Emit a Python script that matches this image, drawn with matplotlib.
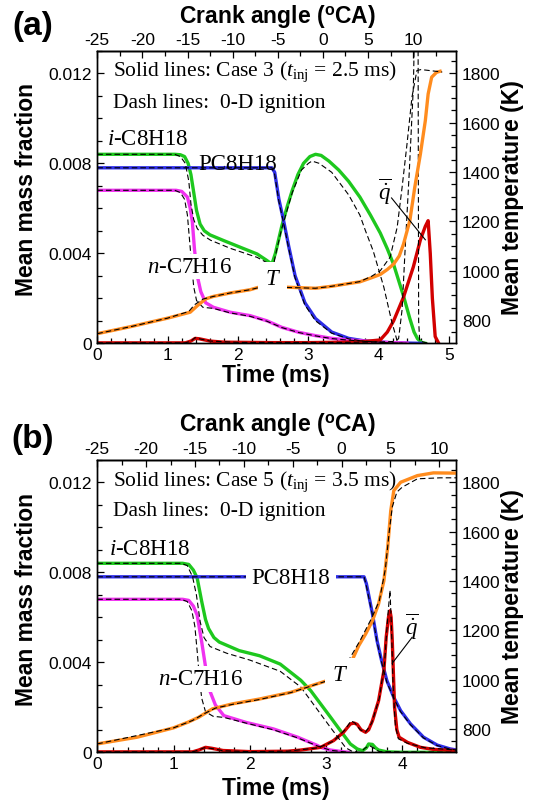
import numpy as np
import matplotlib
matplotlib.use('Agg')
import matplotlib.pyplot as plt
from matplotlib.ticker import MultipleLocator, FuncFormatter

plt.rcParams['font.family'] = 'Liberation Sans'
plt.rcParams['axes.unicode_minus'] = False
plt.rcParams['mathtext.fontset'] = 'custom'
plt.rcParams['mathtext.rm'] = 'Liberation Serif'
plt.rcParams['mathtext.it'] = 'Liberation Serif:italic'
plt.rcParams['mathtext.bf'] = 'Liberation Sans:bold'
plt.rcParams['lines.scale_dashes'] = False

CA_START = -25
CA_PER_MS = 7.8

# ---------------- panel (a): Case 3, t_inj = 2.5 ms ----------------
# i-C8H18
a_ic8_t = [0, 1.10, 1.18, 1.24, 1.29, 1.33, 1.37, 1.41, 1.46, 1.52, 1.60, 1.80, 2.03, 2.27, 2.40, 2.48,
           2.53, 2.62, 2.70, 2.77, 2.85, 2.93, 3.02, 3.10, 3.18, 3.29, 3.43, 3.57, 3.73, 3.88, 4.02,
           4.12, 4.21, 4.35, 4.44, 4.50, 4.55, 4.61, 4.66]
a_ic8_y = [0.0084, 0.0084, 0.00838, 0.0083, 0.0080, 0.0075, 0.0067, 0.0059, 0.0053, 0.0050, 0.00482,
           0.00456, 0.00427, 0.00397, 0.0037, 0.00352, 0.0040, 0.0052, 0.0061, 0.0068, 0.0075, 0.0080,
           0.0083, 0.0084, 0.00835, 0.0081, 0.0077, 0.0072, 0.0065, 0.0057, 0.0049, 0.0042, 0.0035,
           0.0021, 0.0011, 0.0005, 0.0002, 0.00003, 0.0]
a_ic8_0d_t = [0, 1.10, 1.18, 1.25, 1.30, 1.33, 1.37, 1.42, 1.50, 1.61, 1.89, 2.27, 2.46, 2.50, 2.53,
              2.62, 2.77, 2.90, 3.00, 3.05, 3.15, 3.33, 3.57, 3.73, 3.81, 3.92, 4.07, 4.18, 4.26, 4.30]
a_ic8_0d_y = [0.0084, 0.0084, 0.0083, 0.0080, 0.0072, 0.0062, 0.0055, 0.0051, 0.0048, 0.00458,
              0.00422, 0.00382, 0.0035, 0.0034, 0.0039, 0.0051, 0.0067, 0.0077, 0.0080, 0.0081,
              0.0080, 0.0076, 0.0066, 0.0057, 0.0050, 0.0041, 0.0025, 0.0010, 0.0001, 0.0]
# PC8H18
a_pc8_t = [0, 2.48, 2.52, 2.58, 2.65, 2.72, 2.81, 2.95, 3.10, 3.33, 3.57, 3.81, 4.20, 4.60]
a_pc8_y = [0.0078, 0.0078, 0.0076, 0.0064, 0.0054, 0.0043, 0.0030, 0.0018, 0.0011, 0.0005,
           0.00022, 0.0001, 0.00002, 0.0]
a_pc8_0d_t = [0, 2.48, 2.52, 2.58, 2.65, 2.72, 2.81, 2.95, 3.10, 3.33, 3.57, 3.81, 4.20, 4.40]
a_pc8_0d_y = [0.0078, 0.0078, 0.0075, 0.0063, 0.0053, 0.0042, 0.0029, 0.0017, 0.0010, 0.00045,
              0.0002, 0.00008, 0.00001, 0.0]
# n-C7H16
a_nc7_t = [0, 1.12, 1.20, 1.28, 1.32, 1.35, 1.38, 1.42, 1.47, 1.54, 1.65, 1.89, 2.17, 2.41, 2.62,
           2.86, 3.10, 3.33, 3.57, 3.81, 4.10, 4.40]
a_nc7_y = [0.0068, 0.0068, 0.00675, 0.0065, 0.0060, 0.0054, 0.0042, 0.0030, 0.0023, 0.0018, 0.0016,
           0.00138, 0.00123, 0.0010, 0.00071, 0.00049, 0.00034, 0.00022, 0.00015, 0.0001, 0.00004,
           0.00001]
a_nc7_0d_t = [0, 1.10, 1.18, 1.24, 1.28, 1.31, 1.34, 1.37, 1.41, 1.50, 1.65, 1.89, 2.17, 2.41,
              2.62, 2.86, 3.10, 3.33, 3.57, 3.81, 4.10, 4.40]
a_nc7_0d_y = [0.0068, 0.0068, 0.0067, 0.0064, 0.0057, 0.0046, 0.0035, 0.0025, 0.0019, 0.0016,
              0.00155, 0.00135, 0.0012, 0.00098, 0.0007, 0.00048, 0.00033, 0.00021, 0.00014,
              0.00009, 0.00003, 0.0]
# heat release rate (arbitrary units, left axis)
a_q_t = [0, 1.25, 1.33, 1.39, 1.45, 1.60, 1.80, 2.50, 3.00, 3.50, 3.80, 4.02, 4.12, 4.21, 4.35,
         4.49, 4.59, 4.66, 4.70, 4.73, 4.76, 4.80, 4.85]
a_q_y = [0.00002, 0.00002, 0.0001, 0.00022, 0.0002, 0.0001, 0.00005, 0.00003, 0.00003, 0.00005,
         0.00008, 0.00015, 0.0005, 0.0010, 0.00205, 0.0034, 0.0046, 0.0052, 0.00545, 0.0040,
         0.0020, 0.0003, 0.0]
a_q_0d_t = [0, 1.25, 1.33, 1.39, 1.45, 1.60, 2.00, 3.50, 4.00, 4.20, 4.28, 4.33, 4.37, 4.43, 4.49,
            4.52, 4.55, 4.565, 4.58, 4.70]
a_q_0d_y = [0.00002, 0.00002, 0.0001, 0.00025, 0.0002, 0.0001, 0.00004, 0.00004, 0.00006,
            0.00008, 0.0002, 0.0015, 0.004, 0.0075, 0.0114, 0.016, 0.025, 0.001, 0.0001, 0.0]
# mean temperature (K, right axis)
a_T_t = [0, 0.5, 1.0, 1.32, 1.42, 1.54, 1.65, 1.89, 2.17, 2.34, 2.50, 2.72, 3.10, 3.33, 3.57, 3.73,
         3.90, 4.02, 4.12, 4.21, 4.29, 4.35, 4.44, 4.51, 4.59, 4.66, 4.70, 4.75, 4.82, 4.87]
a_T = [745, 775, 808, 832, 858, 886, 896, 910, 923, 937, 936, 933, 929, 937, 948, 955, 972, 985,
       1005, 1027, 1060, 1108, 1203, 1338, 1473, 1608, 1716, 1784, 1804, 1808]
a_T_0d_t = [0, 0.5, 1.0, 1.30, 1.38, 1.50, 1.65, 1.89, 2.17, 2.34, 2.72, 3.10, 3.33, 3.57, 3.73,
            3.90, 4.02, 4.16, 4.26, 4.33, 4.40, 4.47, 4.54, 4.60, 4.90]
a_T_0d = [745, 775, 808, 835, 862, 885, 896, 910, 923, 935, 932, 929, 937, 948, 956, 978, 1000,
          1055, 1176, 1338, 1514, 1703, 1811, 1815, 1805]

# ---------------- panel (b): Case 5, t_inj = 3.5 ms ----------------
b_ic8_t = [0, 1.12, 1.20, 1.26, 1.31, 1.37, 1.42, 1.46, 1.53, 1.60, 1.86, 2.13, 2.40, 2.67, 2.80,
           2.93, 3.06, 3.19, 3.32, 3.41, 3.48, 3.53, 3.56, 3.61, 3.65, 3.69, 3.80, 4.00, 4.71]
b_ic8_y = [0.0084, 0.0084, 0.00835, 0.0081, 0.00775, 0.0067, 0.0059, 0.0055, 0.0051, 0.0049,
           0.00452, 0.00429, 0.00392, 0.0032, 0.00274, 0.00215, 0.00156, 0.00096, 0.00037,
           0.00015, 0.00007, 0.0002, 0.00037, 0.00035, 0.0002, 0.0001, 0.00002, 0.0, 0.0]
b_ic8_0d_t = [0, 1.10, 1.18, 1.25, 1.30, 1.35, 1.40, 1.48, 1.70, 2.00, 2.40, 2.67, 2.80, 3.06,
              3.26, 3.35, 3.45, 3.52, 3.57, 3.62, 3.70, 4.71]
b_ic8_0d_y = [0.0084, 0.0084, 0.0083, 0.0078, 0.0070, 0.0058, 0.0051, 0.0047, 0.0044, 0.0041,
              0.0036, 0.0029, 0.0023, 0.0011, 0.0002, 0.00003, 0.0, 0.0002, 0.0003, 0.0002,
              0.00003, 0.0]
b_pc8_t = [0, 3.50, 3.53, 3.56, 3.61, 3.67, 3.73, 3.80, 3.89, 3.98, 4.11, 4.28, 4.46, 4.63, 4.72]
b_pc8_y = [0.0078, 0.0078, 0.0075, 0.0070, 0.00615, 0.00496, 0.00407, 0.00318, 0.00244, 0.00185,
           0.00126, 0.00067, 0.00032, 0.00015, 0.0001]
b_pc8_0d_t = [0, 3.50, 3.53, 3.56, 3.61, 3.67, 3.73, 3.80, 3.89, 3.98, 4.11, 4.28, 4.46, 4.63, 4.72]
b_pc8_0d_y = [0.0078, 0.0078, 0.0074, 0.0069, 0.0061, 0.0049, 0.0040, 0.0031, 0.0024, 0.0018,
              0.00122, 0.00064, 0.0003, 0.00014, 0.0001]
b_nc7_t = [0, 1.12, 1.20, 1.26, 1.31, 1.34, 1.37, 1.42, 1.48, 1.55, 1.66, 1.95, 2.31, 2.63, 2.89,
           2.93, 3.06, 3.19, 3.30]
b_nc7_y = [0.0068, 0.0068, 0.00675, 0.0065, 0.0061, 0.0055, 0.0049, 0.0038, 0.0027, 0.0021,
           0.00163, 0.00133, 0.00104, 0.00067, 0.0003, 0.00022, 0.0001, 0.00004, 0.0]
b_nc7_0d_t = [0, 1.10, 1.18, 1.24, 1.28, 1.31, 1.34, 1.37, 1.42, 1.52, 1.66, 1.95, 2.31, 2.63,
              2.89, 3.06, 3.30]
b_nc7_0d_y = [0.0068, 0.0068, 0.0067, 0.0063, 0.0056, 0.0045, 0.0033, 0.0024, 0.0018, 0.0016,
              0.00155, 0.0013, 0.0010, 0.00064, 0.00028, 0.00009, 0.0]
b_q_t = [0, 1.25, 1.33, 1.42, 1.50, 1.65, 2.00, 2.50, 2.67, 2.93, 3.10, 3.23, 3.32, 3.37, 3.41,
         3.46, 3.52, 3.56, 3.61, 3.69, 3.76, 3.79, 3.82, 3.84, 3.855, 3.87, 3.90, 3.93, 3.96, 4.07,
         4.24, 4.41, 4.68]
b_q_y = [0.00002, 0.00002, 0.0001, 0.00022, 0.00018, 0.00008, 0.00003, 0.00005, 0.0001, 0.00022,
         0.00052, 0.00089, 0.00126, 0.0013, 0.00124, 0.0010, 0.00089, 0.0010, 0.0014, 0.00229,
         0.00363, 0.00511, 0.0060, 0.00629, 0.0060, 0.00496, 0.0020, 0.0010, 0.00067, 0.00044,
         0.00022, 0.00013, 0.00008]
b_q_0d_t = [0, 1.25, 1.33, 1.40, 1.50, 1.65, 2.00, 2.50, 2.90, 3.10, 3.25, 3.33, 3.38, 3.45, 3.52,
            3.60, 3.70, 3.77, 3.81, 3.84, 3.86, 3.88, 3.91, 3.95, 4.07, 4.30, 4.71]
b_q_0d_y = [0.00002, 0.00002, 0.0001, 0.0002, 0.00017, 0.00007, 0.00003, 0.00005, 0.0002, 0.0005,
            0.0010, 0.0014, 0.0013, 0.0010, 0.0009, 0.0013, 0.0024, 0.0040, 0.0060, 0.0072,
            0.0055, 0.0030, 0.0012, 0.0006, 0.0004, 0.0002, 0.0001]
b_T_t = [0, 0.52, 1.00, 1.19, 1.33, 1.51, 1.77, 2.13, 2.54, 2.81, 3.01, 3.06, 3.34, 3.43, 3.52,
         3.61, 3.69, 3.76, 3.81, 3.85, 3.89, 3.98, 4.20, 4.41, 4.71]
b_T = [740, 767, 805, 828, 848, 882, 902, 922, 949, 976, 996, 1000, 1077, 1138, 1185, 1239, 1307,
       1401, 1537, 1685, 1766, 1800, 1827, 1838, 1837]
b_T_0d_t = [0, 1.00, 1.25, 1.40, 1.55, 1.77, 2.13, 2.54, 3.01, 3.30, 3.45, 3.60, 3.70, 3.78, 3.83,
            3.87, 3.93, 4.00, 4.20, 4.50, 4.71]
b_T_0d = [740, 805, 835, 862, 885, 900, 920, 948, 995, 1080, 1160, 1250, 1320, 1450, 1600, 1700,
          1760, 1780, 1814, 1818, 1818]

GREEN, BLUE, MAGENTA, ORANGE, RED = '#1ec81e', '#2d2de6', '#f032f0', '#ff8c1e', '#d20000'
SERIF = 'Liberation Serif'
W, H = 536, 803


def mf_fmt(v, pos):
    return '0' if abs(v) < 1e-9 else '%.3f' % v


def panel(top_px, xmax, solid, dashed, T_solid, T_dashed, labels, qline):
    ax = fig.add_axes([97.3 / W, 1 - (top_px + 292.5) / H, 359 / W, 292.5 / H])
    ax2 = ax.twinx()
    for t, y, c in solid:
        ax.plot(t, y, color=c, lw=2.4, zorder=2)
    for t, y in dashed:
        ax.plot(t, y, color='k', lw=0.8, ls='--', dashes=(4, 2.2), zorder=3)
    ax2.plot(T_solid[0], T_solid[1], color=ORANGE, lw=2.4, zorder=2)
    ax2.plot(T_dashed[0], T_dashed[1], color='k', lw=0.8, ls='--', dashes=(4, 2.2), zorder=3)

    ax.set_xlim(0, xmax)
    ax.set_ylim(0, 0.013)
    ax2.set_ylim(706, 1891)
    ax.xaxis.set_major_locator(MultipleLocator(1))
    ax.xaxis.set_minor_locator(MultipleLocator(0.2))
    ax.yaxis.set_major_locator(MultipleLocator(0.004))
    ax.yaxis.set_minor_locator(MultipleLocator(0.001))
    ax.yaxis.set_major_formatter(FuncFormatter(mf_fmt))
    ax2.yaxis.set_major_locator(MultipleLocator(200))
    ax2.yaxis.set_minor_locator(MultipleLocator(50))
    sec = ax.secondary_xaxis('top', functions=(lambda t: CA_START + CA_PER_MS * t,
                                               lambda c: (c - CA_START) / CA_PER_MS))
    sec.xaxis.set_major_locator(MultipleLocator(5))
    sec.xaxis.set_minor_locator(MultipleLocator(2.5))
    for a in (ax, ax2, sec):
        a.tick_params(which='both', direction='in', labelsize=12.5, width=0.9)
        a.tick_params(which='major', length=5)
        a.tick_params(which='minor', length=3.5)
    ax.tick_params(axis='y', pad=4)
    ax.tick_params(axis='x', pad=3)
    ax2.tick_params(axis='y', pad=4)
    sec.tick_params(axis='x', pad=2.5)
    for a in (ax, ax2):
        for s in a.spines.values():
            s.set_linewidth(1.0)
    sec.spines['top'].set_linewidth(1.0)

    for txt, x, y, ha, size, pad in labels:
        kw = dict(transform=ax.transData, ha=ha, va='center', fontsize=size, family=SERIF, zorder=6)
        if pad:
            kw['bbox'] = dict(facecolor='white', edgecolor='none', pad=pad)
        ax2.text(x, y, txt, **kw)
    (x0, y0), (x1, y1) = qline
    ax2.plot([x0, x1], [ax2.transData.inverted().transform(ax.transData.transform((x0, y0)))[1],
                        ax2.transData.inverted().transform(ax.transData.transform((x1, y1)))[1]],
             color='k', lw=0.8, zorder=5)
    return ax


fig = plt.figure(figsize=(W / 100, H / 100), dpi=100)

panel(51.8, 5.1,
      [(a_ic8_t, a_ic8_y, GREEN), (a_pc8_t, a_pc8_y, BLUE), (a_nc7_t, a_nc7_y, MAGENTA),
       (a_q_t, a_q_y, RED)],
      [(a_ic8_0d_t, a_ic8_0d_y), (a_pc8_0d_t, a_pc8_0d_y), (a_nc7_0d_t, a_nc7_0d_y),
       (a_q_0d_t, a_q_0d_y)],
      (a_T_t, a_T), (a_T_0d_t, a_T_0d),
      [(r'Solid lines: Case 3 ($t_{\mathrm{inj}}$ = 2.5 ms)', 0.23, 0.0121, 'left', 15.5, 0),
       ('Dash lines:  0-D ignition', 0.23, 0.01072, 'left', 15.5, 0),
       (r'$i$-C8H18', 0.71, 0.00912, 'center', 16.5, 0),
       ('PC8H18', 1.99, 0.00797, 'center', 16.5, 0),
       (r'$n$-C7H16', 1.31, 0.00342, 'center', 16.5, 1.5),
       (r'$T$', 2.49, 0.00286, 'center', 16.5, 5),
       (r'$\overline{\dot{q}}$', 4.08, 0.00677, 'center', 16.5, 0)],
      ((4.18, 0.00646), (4.66, 0.0046)))

panel(460.8, 4.71,
      [(b_ic8_t, b_ic8_y, GREEN), (b_pc8_t, b_pc8_y, BLUE), (b_nc7_t, b_nc7_y, MAGENTA),
       (b_q_t, b_q_y, RED)],
      [(b_ic8_0d_t, b_ic8_0d_y), (b_pc8_0d_t, b_pc8_0d_y), (b_nc7_0d_t, b_nc7_0d_y),
       (b_q_0d_t, b_q_0d_y)],
      (b_T_t, b_T), (b_T_0d_t, b_T_0d),
      [(r'Solid lines: Case 5 ($t_{\mathrm{inj}}$ = 3.5 ms)', 0.21, 0.01207, 'left', 15.5, 0),
       ('Dash lines:  0-D ignition', 0.21, 0.01074, 'left', 15.5, 0),
       (r'$i$-C8H18', 0.69, 0.00907, 'center', 16.5, 0),
       ('PC8H18', 2.54, 0.00778, 'center', 16.5, 4),
       (r'$n$-C7H16', 1.35, 0.00326, 'center', 16.5, 1.5),
       (r'$T$', 3.18, 0.00344, 'center', 16.5, 5),
       (r'$\overline{\dot{q}}$', 4.12, 0.00561, 'center', 16.5, 0)],
      ((4.13, 0.00511), (3.87, 0.00396)))

lab = dict(fontsize=16.5, fontweight='bold', ha='center', va='center')
for dy, tag in ((0, '(a)'), (409, '(b)')):
    fig.text(33 / W, 1 - (27 + dy + (dy and 4)) / H, tag, fontsize=24, fontweight='bold',
             ha='center', va='center')
    fig.text(277 / W, 1 - (16 + dy) / H, r'Crank angle ($^{\mathbf{o}}$CA)', **lab)
    fig.text(276 / W, 1 - (376 + dy + (dy and 4)) / H, 'Time (ms)', **lab)
    fig.text(26.5 / W, 1 - (190 + dy + (dy and 1)) / H, 'Mean mass fraction', rotation=90, **lab)
    fig.text(512 / W, 1 - (198 + dy) / H, 'Mean temperature (K)', rotation=90, **lab)

fig.savefig('out.png', dpi=100)
